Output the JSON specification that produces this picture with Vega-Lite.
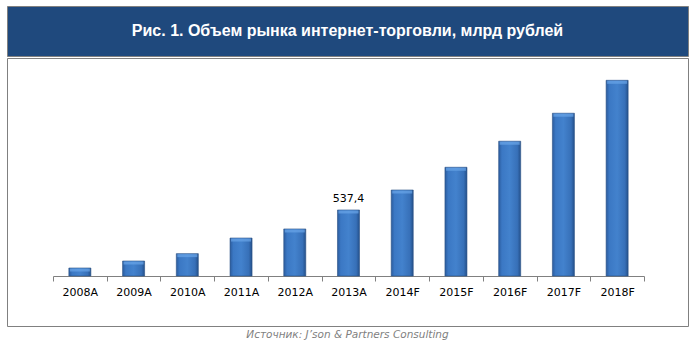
{
  "$schema": "https://vega.github.io/schema/vega-lite/v6.json",
  "background": "white",
  "padding": {"left": 6, "top": 5, "right": 0, "bottom": 0},
  "spacing": 0,
  "title": {
    "text": "Источник: J’son & Partners Consulting",
    "orient": "bottom",
    "anchor": "middle",
    "font": "DejaVu Sans",
    "fontStyle": "italic",
    "fontWeight": "normal",
    "fontSize": 10.5,
    "color": "#7F7F7F",
    "offset": 3
  },
  "vconcat": [
    {
      "width": 681,
      "height": 50,
      "view": {"fill": "#1F497D", "stroke": "#808080", "strokeWidth": 1},
      "data": {"values": [{"t": "Рис. 1. Объем рынка интернет-торговли, млрд рублей"}]},
      "mark": {"type": "text", "color": "white", "font": "Liberation Sans", "fontWeight": "bold", "fontSize": 16},
      "encoding": {"text": {"field": "t"}}
    },
    {
      "width": 681,
      "height": 268,
      "view": {"fill": "white", "stroke": "#808080", "strokeWidth": 1},
      "data": {"values": [
        {"year": "2008A", "value": 65, "label": ""},
        {"year": "2009A", "value": 122, "label": ""},
        {"year": "2010A", "value": 182, "label": ""},
        {"year": "2011A", "value": 309, "label": ""},
        {"year": "2012A", "value": 383, "label": ""},
        {"year": "2013A", "value": 537.4, "label": "537,4"},
        {"year": "2014F", "value": 700, "label": ""},
        {"year": "2015F", "value": 885, "label": ""},
        {"year": "2016F", "value": 1097, "label": ""},
        {"year": "2017F", "value": 1325, "label": ""},
        {"year": "2018F", "value": 1593, "label": ""}
      ]},
      "encoding": {
        "x": {
          "field": "year", "type": "nominal", "sort": null,
          "scale": {"range": [46, 637], "paddingInner": 0, "paddingOuter": 0},
          "axis": {
            "title": null, "orient": "bottom", "offset": -50, "tickBand": "extent",
            "domainColor": "#808080", "tickColor": "#808080", "tickSize": 5,
            "labelFont": "DejaVu Sans", "labelFontSize": 11, "labelColor": "#000000",
            "labelPadding": 5, "labelAngle": 0
          }
        },
        "y": {
          "field": "value", "type": "quantitative",
          "scale": {"domain": [0, 1628], "range": [218, 18]},
          "axis": null
        }
      },
      "layer": [
        {
          "mark": {
            "type": "bar",
            "width": {"band": 0.41},
            "stroke": "#2A5185",
            "strokeWidth": 0.6,
            "fill": {
              "gradient": "linear", "x1": 0, "y1": 0, "x2": 1, "y2": 0,
              "stops": [
                {"offset": 0, "color": "#2B5C9E"},
                {"offset": 0.15, "color": "#3B78C4"},
                {"offset": 0.5, "color": "#4382CD"},
                {"offset": 0.85, "color": "#3770B8"},
                {"offset": 1, "color": "#24508A"}
              ]
            }
          }
        },
        {
          "mark": {"type": "tick", "color": "#6AA5E8", "thickness": 3, "size": 20, "yOffset": 2, "orient": "horizontal"}
        },
        {
          "transform": [{"filter": "datum.label != ''"}],
          "mark": {"type": "text", "baseline": "bottom", "dy": -6, "font": "DejaVu Sans", "fontSize": 11, "color": "#000000"},
          "encoding": {"text": {"field": "label"}}
        }
      ]
    }
  ]
}
